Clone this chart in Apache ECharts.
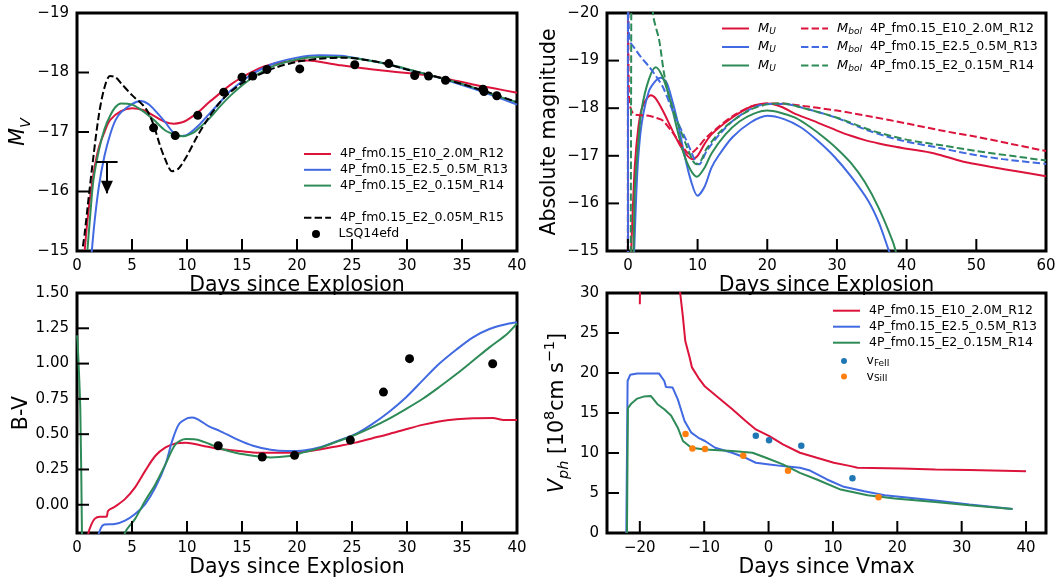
<!DOCTYPE html>
<html><head><meta charset="utf-8">
<script src="https://cdn.jsdelivr.net/npm/echarts@6/dist/echarts.min.js"></script>
<style>html,body{margin:0;padding:0;background:#fff}#c{width:1062px;height:585px}</style>
</head><body><div id="c"></div>
<script>
// ---------- names ----------
const modelNames = ['4P_fm0.15_E10_2.0M_R12', '4P_fm0.15_E2.5_0.5M_R13', '4P_fm0.15_E2_0.15M_R14'];
const model15Name = '4P_fm0.15_E2_0.05M_R15';
const obsName = 'LSQ14efd';

// ---------- panel 1: M_V vs days since explosion ----------
const mvR12 = [[0.6,-14.8],[1.0,-15.6],[1.5,-16.3],[2,-16.75],[2.5,-17.0],[3,-17.2],[4,-17.35],[5,-17.4],[6,-17.37],[7,-17.27],[8,-17.17],[8.8,-17.14],[9.5,-17.16],[10,-17.2],[11,-17.33],[12,-17.5],[13,-17.65],[14,-17.8],[15,-17.92],[16,-18.02],[17,-18.1],[18,-18.15],[19,-18.18],[20,-18.2],[21,-18.2],[22,-18.18],[24,-18.12],[26,-18.07],[28,-18.03],[30,-17.99],[32,-17.95],[34,-17.88],[36,-17.8],[38,-17.73],[40,-17.66]];
const mvR13 = [[1.3,-14.9],[1.6,-15.5],[2,-16.1],[2.5,-16.6],[3,-16.95],[3.5,-17.2],[4,-17.33],[5,-17.47],[5.8,-17.52],[6.5,-17.47],[7,-17.38],[8,-17.17],[8.7,-17.0],[9.3,-16.93],[10,-16.95],[11,-17.1],[12,-17.3],[13,-17.5],[14,-17.7],[15,-17.85],[16,-17.98],[17,-18.08],[18,-18.16],[20,-18.25],[22,-18.29],[24,-18.28],[26,-18.22],[28,-18.15],[30,-18.05],[32,-17.96],[34,-17.85],[36,-17.73],[38,-17.6],[40,-17.46]];
const mvR14 = [[0.9,-14.9],[1.2,-15.6],[1.5,-16.2],[2,-16.7],[2.5,-17.05],[3,-17.27],[3.5,-17.42],[4,-17.48],[5,-17.46],[6,-17.35],[7,-17.2],[8,-17.03],[9,-16.95],[9.7,-16.93],[10.5,-16.98],[11,-17.05],[12,-17.22],[13,-17.43],[14,-17.62],[15,-17.78],[16,-17.92],[17,-18.03],[18,-18.12],[20,-18.22],[22,-18.26],[24,-18.26],[26,-18.22],[28,-18.15],[30,-18.06],[32,-17.96],[34,-17.86],[36,-17.75],[38,-17.62],[40,-17.5]];
const mvR15 = [[0.4,-14.9],[0.7,-15.3],[1,-15.8],[1.5,-16.6],[2,-17.3],[2.5,-17.75],[3,-17.94],[3.5,-17.92],[4,-17.82],[5,-17.62],[6,-17.45],[6.5,-17.32],[7,-17.1],[7.5,-16.8],[8,-16.55],[8.65,-16.34],[9.2,-16.38],[9.5,-16.45],[10,-16.6],[11,-16.95],[12,-17.25],[13,-17.5],[14,-17.68],[15,-17.82],[16,-17.92],[17,-18.0],[18,-18.08],[20,-18.18],[22,-18.23],[24,-18.25],[26,-18.22],[28,-18.15],[30,-18.05],[32,-17.96],[34,-17.86],[36,-17.75],[38,-17.63],[40,-17.5]];
const lsqDays = [6.96, 8.93, 10.98, 13.34, 15.0, 15.98, 17.27, 20.25, 25.25, 28.34, 30.7, 31.96, 33.5, 36.9, 37.0, 38.16];
const lsqMV = [-17.07, -16.94, -17.28, -17.67, -17.92, -17.94, -18.05, -18.06, -18.13, -18.15, -17.95, -17.94, -17.87, -17.72, -17.68, -17.61];
const upperLimit = [2.72, -16.5, -15.97]; // day, limit magnitude, arrow tip

// ---------- panel 2: M_U and M_bol ----------
const muR12 = [[0.35,-14.5],[0.6,-15.5],[1,-16.8],[1.5,-17.6],[2,-18.0],[2.7,-18.2],[3.3,-18.27],[4,-18.2],[5,-17.95],[6,-17.65],[7,-17.35],[8,-17.1],[9.2,-16.93],[10,-17.0],[11,-17.25],[12,-17.45],[14,-17.7],[16,-17.9],[18,-18.05],[20,-18.1],[22,-18.03],[24,-17.88],[26,-17.77],[28,-17.65],[30,-17.53],[32,-17.42],[34,-17.33],[36,-17.26],[38,-17.2],[40,-17.15],[44,-17.05],[48,-16.88],[52,-16.77],[56,-16.67],[60,-16.57]];
const muR13 = [[0,-21],[0.02,-14.5],[0.7,'-'],[0.75,-14.5],[0.9,-15],[1.2,-16.2],[1.5,-17.0],[2,-17.7],[3,-18.35],[4,-18.58],[4.7,-18.64],[5.5,-18.55],[6,-18.35],[7,-17.8],[8,-17.1],[9,-16.5],[10,-16.16],[11,-16.35],[12,-16.75],[13,-17.0],[15,-17.39],[17.6,-17.7],[20,-17.84],[22.4,-17.77],[24.8,-17.6],[27.2,-17.32],[29.7,-16.97],[32.1,-16.55],[34.5,-16.05],[36,-15.6],[37.4,-15.03],[38,-14.8]];
const muR14 = [[0.55,-14.5],[0.8,-15],[1,-16.3],[1.5,-17.3],[2,-18.0],[3,-18.6],[4,-18.86],[5,-18.65],[6,-18.2],[7,-17.6],[8,-17.05],[9,-16.7],[9.9,-16.56],[11,-16.75],[12,-17.05],[14,-17.45],[16,-17.72],[18,-17.88],[20,-17.95],[22,-17.9],[24,-17.8],[26,-17.62],[28,-17.4],[30,-17.15],[32,-16.85],[34,-16.45],[36,-15.9],[38,-15.2],[38.6,-14.9]];
const mbolR12 = [[0,-14.5],[0.03,-20.5],[0.16,-18.2],[0.5,-17.95],[1,-17.87],[2,-17.85],[3,-17.84],[4,-17.8],[5,-17.74],[6.4,-17.49],[7.9,-17.18],[8.85,-17.04],[9.8,-17.14],[11.3,-17.39],[13.2,-17.63],[15.1,-17.84],[17.6,-18.03],[20,-18.1],[22,-18.1],[25,-18.05],[30,-17.95],[35,-17.82],[40,-17.68],[45,-17.53],[50,-17.4],[55,-17.25],[60,-17.1]];
const mbolR13 = [[0,-14.5],[0.02,-20.5],[0.24,-19.43],[1,-19.25],[2,-19.05],[3,-18.88],[4,-18.68],[5,-18.45],[6,-18.1],[7,-17.75],[8.4,-17.32],[9.8,-16.85],[10.2,-16.82],[11.3,-17.1],[13.2,-17.46],[15.1,-17.74],[17.6,-17.98],[20,-18.09],[22.4,-18.09],[24.8,-18.02],[29.7,-17.81],[34.5,-17.53],[39.3,-17.32],[44.2,-17.18],[49,-17.04],[53.8,-16.93],[60,-16.83]];
const mbolR14 = [[0.4,-14.5],[0.5,-21],[2,'-'],[3.5,-21],[3.6,-20],[4.5,-19.42],[5.2,-18.72],[6,-18.2],[7.4,-17.6],[9.3,-16.9],[9.9,-16.82],[10.5,-16.9],[11.3,-17.15],[13.2,-17.5],[15,-17.73],[17.6,-17.97],[20,-18.08],[22,-18.1],[25,-18.01],[30,-17.8],[35,-17.53],[40,-17.34],[45,-17.22],[50,-17.1],[55,-17.0],[60,-16.9]];

// ---------- panel 3: B-V ----------
const bvR12 = [[0.9,-0.3],[1.04,-0.2],[1.3,-0.14],[1.6,-0.10],[2.06,-0.085],[2.67,-0.085],[2.83,-0.043],[3.44,-0.014],[4.36,0.04],[5.28,0.123],[6.2,0.24],[7.13,0.347],[8.05,0.406],[8.97,0.435],[9.9,0.44],[11.4,0.418],[12.96,0.395],[14.5,0.383],[16,0.371],[17.6,0.368],[19.1,0.368],[20.6,0.376],[22.2,0.393],[23.7,0.415],[25.3,0.44],[26.8,0.47],[28.3,0.50],[29.9,0.535],[31.4,0.566],[32.9,0.59],[34.5,0.605],[36,0.612],[37.8,0.614],[38.8,0.60],[40,0.60]];
const bvR13 = [[1.8,-0.25],[2.2,-0.16],[2.5,-0.14],[3.44,-0.137],[4.36,-0.113],[5.28,-0.066],[6.2,0.005],[7.13,0.123],[8.05,0.288],[8.66,0.454],[9.28,0.572],[10.05,0.614],[10.5,0.619],[11.1,0.60],[12.04,0.553],[12.96,0.524],[14.5,0.465],[16.0,0.418],[17.6,0.39],[19.1,0.381],[20.6,0.385],[22.2,0.41],[23.7,0.452],[25.3,0.50],[26.8,0.57],[28.3,0.654],[29.9,0.76],[31.4,0.879],[32.9,0.997],[34.5,1.10],[36,1.186],[37.5,1.245],[39.1,1.28],[40,1.292]];
const bvR14 = [[0,1.2],[0.05,1.16],[0.3,0.68],[0.45,-0.2],[0.5,-0.4],[2,'-'],[4.0,-0.4],[4.36,-0.2],[5.28,-0.10],[6.2,0.028],[7.13,0.146],[8.05,0.288],[8.97,0.43],[9.9,0.465],[10.8,0.463],[12.04,0.43],[12.96,0.40],[14.5,0.366],[16,0.347],[17.6,0.335],[19.1,0.343],[20.6,0.371],[22.2,0.406],[23.7,0.449],[25.3,0.496],[26.8,0.548],[28.3,0.607],[29.9,0.678],[31.4,0.749],[32.9,0.832],[34.5,0.926],[36,1.02],[37.5,1.115],[39.1,1.21],[40,1.285]];
const bvDays = [12.84, 16.84, 19.78, 24.85, 27.86, 30.23, 37.79];
const bvObs = [0.418, 0.338, 0.350, 0.458, 0.798, 1.035, 0.999];

// ---------- panel 4: photospheric velocity ----------
const vphR12 = [[-20.0,28.6],[-19.97,31],[-17,'-'],[-13.8,31],[-13.73,30],[-13.3,26.95],[-12.94,24.0],[-12.25,21.9],[-11.9,20.7],[-10.9,19.4],[-9.88,18.3],[-7.78,16.9],[-5.67,15.5],[-3.56,14.0],[-1.98,12.95],[0.13,12.1],[2.23,11.07],[4.87,10.03],[7.5,9.4],[10.14,8.78],[12.77,8.36],[13.8,8.15],[20.7,8.07],[25.9,7.94],[31.2,7.86],[40,7.73]];
const vphR13 = [[-22.1,0],[-21.9,19.0],[-21.5,19.77],[-20.4,19.93],[-17,19.93],[-16.2,19.0],[-15.94,18.26],[-14.9,18.18],[-14.1,16.7],[-13.05,14.0],[-12,12.54],[-10.9,11.9],[-9.88,11.5],[-8.3,10.66],[-5.67,10.03],[-3.56,9.4],[-1.98,8.78],[0.13,8.57],[2.23,8.36],[4.87,8.15],[6.45,7.81],[9.08,6.69],[11.7,5.77],[14.88,5.22],[18.04,4.72],[20.7,4.51],[25.9,4.05],[31.2,3.55],[37.9,3.0]];
const vphR14 = [[-22.0,0],[-21.85,15.6],[-21.3,16.2],[-20.4,16.8],[-19.4,17.05],[-18.3,17.13],[-17.26,16.1],[-16.2,15.46],[-15.15,14.7],[-14.1,13.16],[-13.3,11.5],[-12,10.66],[-9.88,10.45],[-5.67,10.24],[-2.5,10.03],[-0.4,9.4],[2.23,8.57],[4.87,7.52],[7.5,6.69],[11.2,5.43],[15.4,4.72],[19.6,4.3],[25.9,3.89],[31.2,3.47],[37.9,3.0]];
const feDays = [-1.98, 0.07, 5.08, 13.03];
const feVel = [12.16, 11.58, 10.9, 6.85];
const siDays = [-12.9, -11.83, -9.88, -3.93, 3.02, 17.09];
const siVel = [12.37, 10.57, 10.49, 9.65, 7.77, 4.47];

// ---------- axis ranges and tick values ----------
const rangeX = [[0, 40], [-3, 60], [0, 40], [-25.1, 43.1]];
const rangeY = [[-19, -15], [-20, -15], [-0.2, 1.5], [0, 30]];
const ticksX = [[0,5,10,15,20,25,30,35,40], [0,10,20,30,40,50,60], [0,5,10,15,20,25,30,35,40], [-20,-10,0,10,20,30,40]];
const ticksY = [[-19,-18,-17,-16,-15], [-20,-19,-18,-17,-16,-15], [0,0.25,0.5,0.75,1.0,1.25,1.5], [0,5,10,15,20,25,30]];

// ---------- styling ----------
const FONT = 'DejaVu Sans';
const RED = '#dc143c', BLUE = '#4169e1', GREEN = '#2e8b57';
const DASH = [7.4, 3.2];
const TICK_PX = 12;
const minus = v => (v < 0 ? '\u2212' + String(Math.abs(v)) : String(v));
const zip = (a, b) => a.map((v, i) => [v, b[i]]);

const gridBoxes = [
  {left: 77, top: 13, width: 440, height: 238},
  {left: 607, top: 13, width: 439, height: 238},
  {left: 77, top: 293, width: 440, height: 240},
  {left: 607, top: 293, width: 439, height: 240}
];
const grids = gridBoxes.map(g => Object.assign({}, g, {show: true, borderColor: '#000', borderWidth: 3, backgroundColor: 'transparent', containLabel: false, outerBoundsMode: 'none'}));
const inverted = [true, true, false, false];

const lblBase = {color: '#000', fontSize: 15, fontFamily: FONT};
const nameStyle = {color: '#000', fontSize: 20.5, fontFamily: FONT};

function xAx(i, name, gap) {
  return {type: 'value', gridIndex: i, position: 'bottom', min: rangeX[i][0], max: rangeX[i][1], name, nameLocation: 'middle', nameGap: gap,
    nameTextStyle: nameStyle, axisLine: {show: false, onZero: false}, splitLine: {show: false}, axisTick: {show: false},
    axisLabel: Object.assign({customValues: ticksX[i], margin: 8, formatter: minus}, lblBase)};
}
function yAx(i, name, gap) {
  return {type: 'value', gridIndex: i, position: 'left', min: rangeY[i][0], max: rangeY[i][1], inverse: inverted[i],
    name, nameLocation: 'middle', nameGap: gap, nameRotate: 90,
    nameTextStyle: nameStyle, axisLine: {show: false, onZero: false}, splitLine: {show: false}, axisTick: {show: false},
    axisLabel: Object.assign({customValues: ticksY[i], margin: 8, formatter: minus}, lblBase)};
}

const yNameRich = {
  it: {fontStyle: 'italic', fontSize: 20.5, fontFamily: FONT, color: '#000'},
  isub: {fontStyle: 'italic', fontSize: 14.5, fontFamily: FONT, color: '#000', padding: [14, 0, 0, 0]},
  n: {fontSize: 20.5, fontFamily: FONT, color: '#000'},
  sup: {fontSize: 14.5, fontFamily: FONT, color: '#000', padding: [0, 0, 14, 0]}
};

const xAxes = [
  xAx(0, 'Days since Explosion', 19),
  xAx(1, 'Days since Explosion', 19),
  xAx(2, 'Days since Explosion', 23),
  xAx(3, 'Days since Vmax', 23)
];
const yAxes = [
  yAx(0, '{it|M}{isub|V}', 42),
  yAx(1, 'Absolute magnitude', 47),
  yAx(2, 'B-V', 43),
  yAx(3, '{it|V}{isub|ph}{n| [10}{sup|8}{n|cm s}{sup|\u22121}{n|]}', 35)
];
yAxes.forEach(a => { a.nameTextStyle = Object.assign({}, nameStyle, {rich: yNameRich}); });
yAxes[2].axisLabel.formatter = v => v.toFixed(2);

function line(name, data, color, idx, dashed, z) {
  return {type: 'line', name, data, xAxisIndex: idx, yAxisIndex: idx, symbol: 'none', showSymbol: false,
    smooth: 0.3, clip: true, silent: true, z: z || 2, connectNulls: false,
    lineStyle: {color, width: 2, type: dashed ? DASH : 'solid'}, itemStyle: {color}};
}
function pline(name, data, color, idx) {
  const s = line(name, data, color, idx, false);
  s.smooth = false;
  return s;
}
function dots(name, data, color, idx, size, z) {
  return {type: 'scatter', name, data, xAxisIndex: idx, yAxisIndex: idx, symbol: 'circle', symbolSize: size,
    itemStyle: {color, opacity: 1}, silent: true, z: z || 4, clip: false};
}

const lsqSeries = dots(obsName, zip(lsqDays, lsqMV), '#000', 0, 9);
lsqSeries.markLine = {
  silent: true, animation: false, symbol: ['none', 'none'], label: {show: false},
  lineStyle: {color: '#000', width: 2, type: 'solid'},
  data: [
    [{coord: [upperLimit[0] - 0.97, upperLimit[1]]}, {coord: [upperLimit[0] + 0.97, upperLimit[1]]}],
    [{coord: [upperLimit[0], upperLimit[1]]}, {coord: [upperLimit[0], upperLimit[2]], symbol: 'triangle', symbolSize: [12, 13], symbolOffset: [0, 6]}]
  ]
};

const series = [
  line(modelNames[0], mvR12, RED, 0), line(modelNames[1], mvR13, BLUE, 0), line(modelNames[2], mvR14, GREEN, 0),
  line(model15Name, mvR15, '#000', 0, true, 3), lsqSeries,

  line('MU_R12', muR12, RED, 1), line('MU_R13', muR13, BLUE, 1), line('MU_R14', muR14, GREEN, 1),
  line('Mbol_R12', mbolR12, RED, 1, true), line('Mbol_R13', mbolR13, BLUE, 1, true), line('Mbol_R14', mbolR14, GREEN, 1, true),

  line(modelNames[0], bvR12, RED, 2), line(modelNames[1], bvR13, BLUE, 2), line(modelNames[2], bvR14, GREEN, 2),
  dots(obsName, zip(bvDays, bvObs), '#000', 2, 9),

  pline(modelNames[0], vphR12, RED, 3), pline(modelNames[1], vphR13, BLUE, 3), pline(modelNames[2], vphR14, GREEN, 3),
  dots('vFeII', zip(feDays, feVel), '#1f77b4', 3, 6.5),
  dots('vSiII', zip(siDays, siVel), '#ff7f0e', 3, 6.5)
];

const legText = {color: '#000', fontSize: 12.5, fontFamily: FONT, lineHeight: 14, padding: [0, 0, 0, 4]};
function leg(data, left, top, ih, gap, extra) {
  return Object.assign({data, left, top, orient: 'vertical', align: 'left', itemWidth: 27, itemHeight: ih, itemGap: gap,
    padding: 0, selectedMode: false, textStyle: Object.assign({}, legText), inactiveColor: '#000',
    itemStyle: {opacity: 0}}, extra || {});
}
function dotLeg(data, left, top, ih, gap, extra) {
  const l = leg(data, left, top, ih, gap, extra);
  l.icon = 'circle';
  l.itemStyle = {opacity: 1};
  return l;
}
const mathRich = {
  m: {fontStyle: 'italic', fontSize: 13, fontFamily: FONT, color: '#000', lineHeight: 14},
  s: {fontStyle: 'italic', fontSize: 9, fontFamily: FONT, color: '#000', lineHeight: 10, padding: [6, 0, 0, 0]},
  t: {fontSize: 12.5, fontFamily: FONT, color: '#000', lineHeight: 14},
  r: {fontSize: 9, fontFamily: FONT, color: '#000', lineHeight: 10, padding: [5, 0, 0, 0]}
};
const mbolLabel = {Mbol_R12: modelNames[0], Mbol_R13: modelNames[1], Mbol_R14: modelNames[2]};

const legends = [
  leg(modelNames, 303, 147, 14, 1.8),
  leg([model15Name], 303, 210.7, 14, 2),
  dotLeg([obsName], 312, 227, 8, 2),
  leg(['MU_R12', 'MU_R13', 'MU_R14'], 721, 21, 14, 3.5, {formatter: () => '{m|M}{s|U}'}),
  leg(['Mbol_R12', 'Mbol_R13', 'Mbol_R14'], 800, 21, 14, 3.5, {formatter: n => '{m|M}{s|bol}{t|  ' + mbolLabel[n] + '}'}),
  leg(modelNames, 832, 303.7, 14, 2),
  dotLeg(['vFeII', 'vSiII'], 841, 354, 6, 1.5, {formatter: n => '{t|v}{r|' + n.slice(1) + '}'})
];
legends[3].textStyle.rich = mathRich;
legends[4].textStyle.rich = mathRich;
legends[6].textStyle.rich = mathRich;

const chart = echarts.init(document.getElementById('c'), null, {renderer: 'canvas'});
chart.setOption({
  animation: false,
  backgroundColor: '#fff',
  grid: grids,
  xAxis: xAxes,
  yAxis: yAxes,
  legend: legends,
  series
});

// inward tick marks on the bottom and left frame, positioned through each grid's own scales
const tickEls = [];
for (let i = 0; i < 4; i++) {
  const yBottom = inverted[i] ? rangeY[i][1] : rangeY[i][0];
  const xLeft = rangeX[i][0];
  ticksX[i].forEach(t => {
    const p = chart.convertToPixel({gridIndex: i}, [t, yBottom]);
    if (p) tickEls.push({type: 'line', z: 100, silent: true,
      shape: {x1: p[0], y1: p[1], x2: p[0], y2: p[1] - TICK_PX}, style: {stroke: '#000', lineWidth: 2}});
  });
  ticksY[i].forEach(t => {
    const p = chart.convertToPixel({gridIndex: i}, [xLeft, t]);
    if (p) tickEls.push({type: 'line', z: 100, silent: true,
      shape: {x1: p[0], y1: p[1], x2: p[0] + TICK_PX, y2: p[1]}, style: {stroke: '#000', lineWidth: 2}});
  });
}
chart.setOption({graphic: {elements: tickEls}});
</script></body></html>
